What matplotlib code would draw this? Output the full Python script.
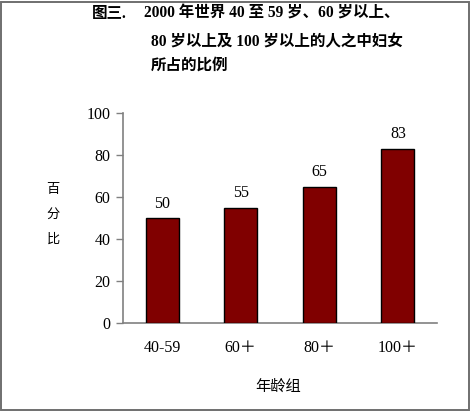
import matplotlib
matplotlib.use("Agg")
import matplotlib.pyplot as plt
from matplotlib.patches import Rectangle

categories = ["40-59", "60＋", "80＋", "100＋"]
values = [50, 55, 65, 83]
yticks = [0, 20, 40, 60, 80, 100]

fam = ["Liberation Serif", "Noto Sans CJK SC", "DejaVu Sans"]
plt.rcParams['font.family'] = fam

fig = plt.figure(figsize=(4.71, 4.11), dpi=100)
fig.patches.append(Rectangle((0.002, 0.002), 0.994, 0.994, transform=fig.transFigure,
                             fill=False, edgecolor="#6f6f6f", linewidth=1.4))

ax = fig.add_axes([0.261, 0.214, 0.667, 0.511])
x = list(range(len(categories)))
ax.bar(x, values, width=0.42, color="#800000", edgecolor="black", linewidth=1.0, zorder=3)
for xi, v in zip(x, values):
    ax.text(xi, v + 3, str(v), ha="center", va="bottom", fontsize=11.5)

ax.set_xlim(-0.5, 3.5)
ax.set_ylim(0, 100)
ax.set_yticks(yticks)
ax.set_yticklabels([str(t) for t in yticks], fontsize=11.5)
ax.set_xticks(x)
ax.set_xticklabels(categories, fontsize=11.5)
ax.tick_params(axis="x", length=0, pad=12)
ax.tick_params(axis="y", length=5, color="#808080", width=1, pad=4)
for s in ["top", "right"]:
    ax.spines[s].set_visible(False)
for s in ["left", "bottom"]:
    ax.spines[s].set_color("#808080")
    ax.spines[s].set_linewidth(1.2)

fig.text(278 / 471, 1 - 387 / 411, "年龄组", ha="center", va="center", fontsize=11)
for i, ch in enumerate("百分比"):
    fig.text(53 / 471, 1 - (190 + 25 * i) / 411, ch, ha="center", va="center", fontsize=9.5)

fig.text(92 / 471, 1 - 14 / 411, "图三.", ha="left", va="center", fontsize=11.2, fontweight="bold")
fig.text(144 / 471, 1 - 14 / 411, "2000 年世界 40 至 59 岁、60 岁以上、", ha="left", va="center",
         fontsize=11.2, fontweight="bold")
fig.text(151 / 471, 1 - 42 / 411, "80 岁以上及 100 岁以上的人之中妇女", ha="left", va="center",
         fontsize=11.2, fontweight="bold")
fig.text(151 / 471, 1 - 66 / 411, "所占的比例", ha="left", va="center",
         fontsize=11.2, fontweight="bold")

fig.savefig("out.png", dpi=100)
